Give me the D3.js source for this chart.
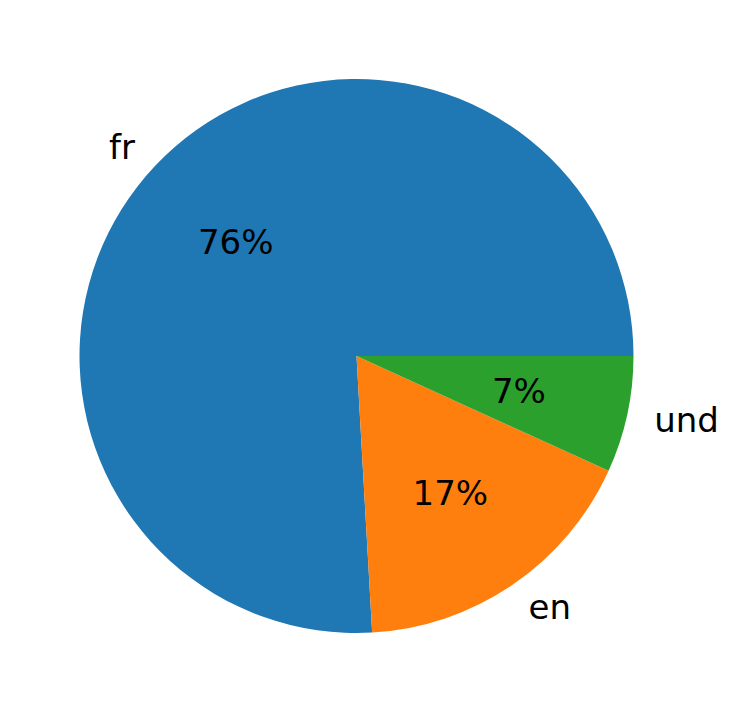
<!DOCTYPE html>
<html>
<head>
<meta charset="utf-8">
<script src="https://cdn.jsdelivr.net/npm/d3@7"></script>
<style>
  html, body { margin: 0; padding: 0; background: #fff; }
  svg { display: block; }
</style>
</head>
<body>
<div id="chart"></div>
<script>
// --- DATA ---
const labels = ["fr", "en", "und"];
const shares = [75.9, 17.3, 6.8];
const colors = ["#1f77b4", "#ff7f0e", "#2ca02c"];

// --- SETUP ---
const width = 730, height = 713;
const cx = 356.5, cy = 356, radius = 277;
const fontSize = 34;

const svg = d3.select("#chart").append("svg")
    .attr("width", width)
    .attr("height", height);

const g = svg.append("g").attr("transform", `translate(${cx},${cy})`);

// matplotlib style: start at 3 o'clock, go counterclockwise
const pie = d3.pie()
    .sort(null)
    .value(d => d)
    .startAngle(Math.PI / 2)
    .endAngle(Math.PI / 2 - 2 * Math.PI);

const arcs = pie(shares);
const arc = d3.arc().innerRadius(0).outerRadius(radius);

g.selectAll("path")
    .data(arcs)
    .join("path")
    .attr("d", arc)
    .attr("fill", (d, i) => colors[i]);

// position helper: d3 angle measured clockwise from 12 o'clock
function pos(d, dist) {
    const a = (d.startAngle + d.endAngle) / 2;
    return [Math.sin(a) * radius * dist, -Math.cos(a) * radius * dist];
}

g.selectAll("text.label")
    .data(arcs)
    .join("text")
    .attr("class", "label")
    .attr("x", d => pos(d, 1.1)[0])
    .attr("y", d => pos(d, 1.1)[1])
    .attr("dy", "0.35em")
    .attr("text-anchor", d => pos(d, 1.1)[0] < 0 ? "end" : "start")
    .attr("font-family", "DejaVu Sans, sans-serif")
    .attr("font-size", fontSize)
    .attr("fill", "#000")
    .text((d, i) => labels[i]);

g.selectAll("text.pct")
    .data(arcs)
    .join("text")
    .attr("class", "pct")
    .attr("x", d => pos(d, 0.6)[0])
    .attr("y", d => pos(d, 0.6)[1])
    .attr("dy", "0.35em")
    .attr("text-anchor", "middle")
    .attr("font-family", "DejaVu Sans, sans-serif")
    .attr("font-size", fontSize)
    .attr("fill", "#000")
    .text(d => d3.format(".0f")(d.value) + "%");
</script>
</body>
</html>
